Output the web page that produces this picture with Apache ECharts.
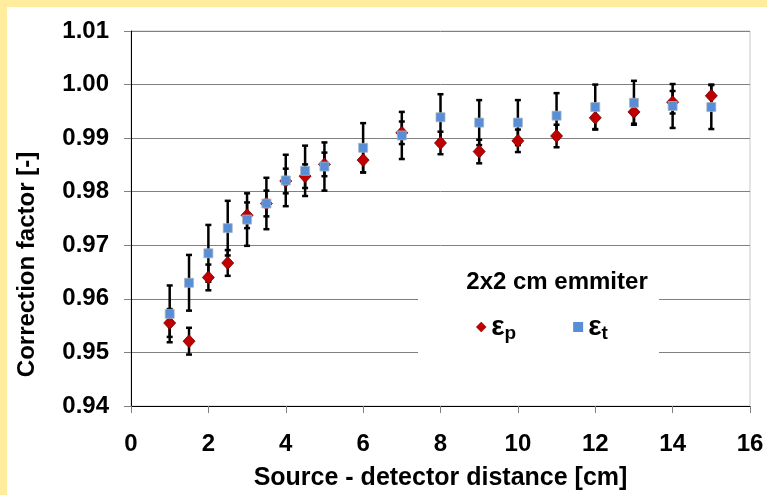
<!DOCTYPE html>
<html>
<head>
<meta charset="utf-8">
<script src="https://cdn.jsdelivr.net/npm/echarts@6/dist/echarts.min.js"></script>
<style>
html,body{margin:0;padding:0;width:767px;height:495px;background:#FFEC9C;overflow:hidden;}
#c{position:absolute;left:7px;top:7px;width:760px;height:488px;background:#fff;}
</style>
</head>
<body>
<div id="c"></div>
<script>
// distances [cm]
const distances = [1, 1.5, 2, 2.5, 3, 3.5, 4, 4.5, 5, 6, 7, 8, 9, 10, 11, 12, 13, 14, 15];
// epsilon_p correction factor and its uncertainty
const epValues = [0.9555, 0.9521, 0.9640, 0.9667, 0.9756, 0.9778, 0.9820, 0.9829, 0.9851, 0.9859, 0.9910, 0.9891, 0.9875, 0.9895, 0.9904, 0.9938, 0.9949, 0.9967, 0.9979];
const epErrors = [0.0026, 0.0025, 0.0024, 0.0024, 0.0024, 0.0024, 0.0023, 0.0022, 0.0022, 0.0023, 0.0021, 0.0021, 0.0022, 0.0021, 0.0021, 0.0021, 0.0022, 0.0021, 0.0021];
// epsilon_t correction factor and its uncertainty
const etValues = [0.9572, 0.9630, 0.9685, 0.9732, 0.9748, 0.9778, 0.9821, 0.9839, 0.9847, 0.9882, 0.9905, 0.9939, 0.9929, 0.9929, 0.9942, 0.9958, 0.9966, 0.9960, 0.9958];
const etErrors = [0.0053, 0.0052, 0.0053, 0.0051, 0.0049, 0.0048, 0.0048, 0.0047, 0.0045, 0.0046, 0.0044, 0.0043, 0.0042, 0.0042, 0.0042, 0.0042, 0.0041, 0.0041, 0.0041];
// axis ranges
const xRange = [0, 16, 2];
const yRange = [0.94, 1.01, 0.01];
const legendTitle = '2x2 cm emmiter';

const FONT = '"Liberation Sans", Arial, sans-serif';

function errData(vals, errs) {
  return distances.map((x, i) => [x, vals[i] - errs[i], vals[i] + errs[i]]);
}
function renderErr(params, api) {
  const x = api.value(0);
  const lo = api.coord([x, api.value(1)]);
  const hi = api.coord([x, api.value(2)]);
  const cw = 3;
  const st = {stroke: '#000', lineWidth: 2.5};
  return {
    type: 'group',
    children: [
      {type: 'line', shape: {x1: lo[0], y1: lo[1], x2: hi[0], y2: hi[1]}, style: st},
      {type: 'line', shape: {x1: lo[0] - cw, y1: lo[1], x2: lo[0] + cw, y2: lo[1]}, style: st},
      {type: 'line', shape: {x1: hi[0] - cw, y1: hi[1], x2: hi[0] + cw, y2: hi[1]}, style: st}
    ]
  };
}

const chart = echarts.init(document.getElementById('c'), null, {renderer: 'canvas'});
chart.setOption({
  animation: false,
  textStyle: {fontFamily: FONT},
  grid: {left: 124, right: 17, top: 24, bottom: 89, outerBoundsMode: 'none', containLabel: false,
         show: true, borderColor: '#c8c8c8', borderWidth: 1, backgroundColor: '#fff'},
  title: {
    text: legendTitle,
    left: 545, top: 258, textAlign: 'center',
    textStyle: {fontFamily: FONT, fontSize: 24, fontWeight: 'bold', color: '#000'},
    z: 10
  },
  graphic: [{
    type: 'rect', left: 411, top: 251, z: 5,
    shape: {width: 241, height: 104},
    style: {fill: '#fff'}
  }],
  legend: {
    left: 464, top: 301, itemGap: 57, itemWidth: 10, itemHeight: 10,
    z: 10,
    data: [
      {name: 'ep', icon: 'diamond', itemStyle: {color: '#C00000', borderColor: '#800000', borderWidth: 0.5}},
      {name: 'et', icon: 'rect', itemStyle: {color: '#578ED6', borderWidth: 0}}
    ],
    formatter: n => '{e|ε}{s|' + n.slice(1) + '}',
    textStyle: {
      rich: {
        e: {fontFamily: FONT, fontSize: 28, fontWeight: 'bold', color: '#000'},
        s: {fontFamily: FONT, fontSize: 19, fontWeight: 'bold', color: '#000', padding: [13, 0, 0, 0]}
      }
    }
  },
  xAxis: {
    type: 'value', min: xRange[0], max: xRange[1], interval: xRange[2],
    name: 'Source - detector distance [cm]', nameLocation: 'middle', nameGap: 60,
    nameTextStyle: {fontFamily: FONT, fontSize: 25, fontWeight: 'bold', color: '#000'},
    axisLine: {show: true, onZero: false, lineStyle: {color: '#000', width: 1}},
    axisTick: {show: true, length: 7, lineStyle: {color: '#808080'}},
    axisLabel: {margin: 26, fontFamily: FONT, fontSize: 24, fontWeight: 'bold', color: '#000'},
    splitLine: {show: false}
  },
  yAxis: {
    type: 'value', min: yRange[0], max: yRange[1], interval: yRange[2],
    name: 'Correction factor [-]', nameLocation: 'middle', nameGap: 92,
    nameTextStyle: {fontFamily: FONT, fontSize: 24, fontWeight: 'bold', color: '#000', padding: [0, 92, 0, 0]},
    axisLine: {show: true, onZero: false, lineStyle: {color: '#000', width: 1}},
    axisTick: {show: true, length: 7, lineStyle: {color: '#808080'}},
    axisLabel: {margin: 22, fontFamily: FONT, fontSize: 24, fontWeight: 'bold', color: '#000', formatter: v => v.toFixed(2)},
    splitLine: {show: true, lineStyle: {color: '#808080', width: 1}}
  },
  series: [
    {
      name: 'ep-err', type: 'custom', renderItem: renderErr, z: 2,
      encode: {x: 0, y: [1, 2]}, data: errData(epValues, epErrors), silent: true
    },
    {
      name: 'et-err', type: 'custom', renderItem: renderErr, z: 2,
      encode: {x: 0, y: [1, 2]}, data: errData(etValues, etErrors), silent: true
    },
    {
      name: 'ep', type: 'scatter', symbol: 'diamond', symbolSize: [12, 13], z: 3,
      itemStyle: {color: '#C00000', borderColor: '#700000', borderWidth: 0.8, opacity: 1},
      data: distances.map((x, i) => [x, epValues[i]])
    },
    {
      name: 'et', type: 'scatter', symbol: 'rect', symbolSize: 9, z: 4,
      itemStyle: {color: '#578ED6', borderColor: '#a9b4c4', borderWidth: 0.8, opacity: 1},
      data: distances.map((x, i) => [x, etValues[i]])
    }
  ]
});
</script>
</body>
</html>
